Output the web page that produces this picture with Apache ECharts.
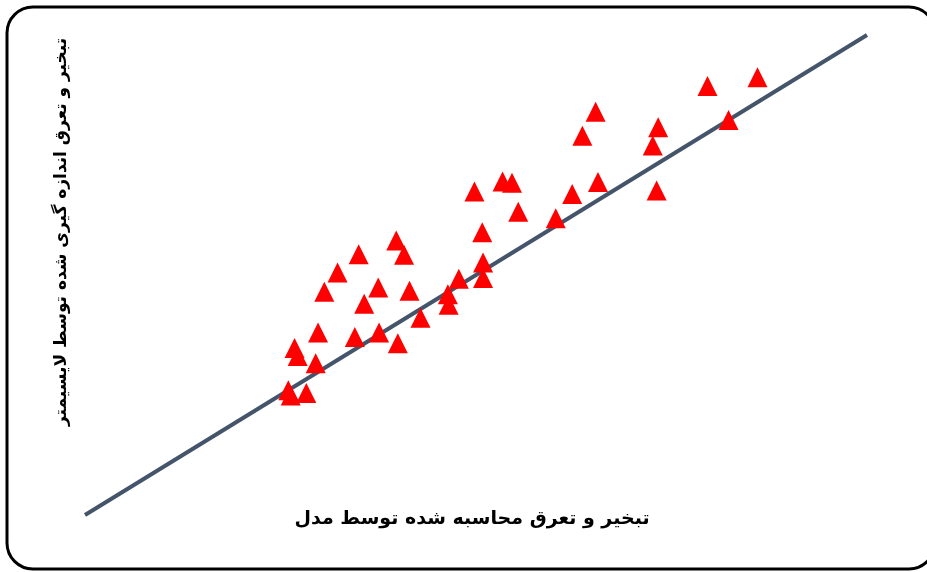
<!DOCTYPE html>
<html>
<head>
<meta charset="utf-8">
<script src="https://cdn.jsdelivr.net/npm/echarts@6/dist/echarts.min.js"></script>
<style>
  html, body { margin: 0; padding: 0; background: #fff; }
  #main { width: 927px; height: 572px; }
</style>
</head>
<body>
<div id="main"></div>
<script>
// مقادیر تبخیر و تعرق (محاسبه شده توسط مدل ، اندازه گیری شده توسط لایسیمتر)
var model_et = [8.60, 7.96, 8.23, 6.53, 6.36, 7.33, 7.26, 6.56, 6.23, 7.31,
                6.02, 4.98, 5.34, 5.46, 5.54, 5.08, 5.09, 5.09, 4.78, 4.64,
                4.65, 4.15, 4.29, 3.98, 4.08, 3.50, 3.23, 3.06, 3.75, 3.57,
                2.98, 3.45, 3.76, 4.00, 2.68, 2.72, 2.95, 2.60, 2.63, 2.83];
var lysimeter_et = [9.12, 8.94, 8.23, 8.40, 7.90, 8.08, 7.70, 6.94, 6.69, 6.76,
                    6.18, 6.74, 6.95, 6.92, 6.32, 5.89, 5.26, 4.94, 4.92, 4.60,
                    4.38, 4.67, 4.11, 5.72, 5.42, 5.43, 5.05, 4.65, 4.74, 4.40,
                    3.80, 3.71, 3.80, 3.58, 3.48, 3.31, 3.16, 2.60, 2.49, 2.54];
// خط 1:1
var line_x = [0, 10];
var line_y = [0, 10];

var x_title = 'تبخیر و تعرق محاسبه شده توسط مدل';
var y_title = 'تبخیر و تعرق اندازه گیری شده توسط لایسیمتر';

var myChart = echarts.init(document.getElementById('main'));

var points = [];
for (var i = 0; i < model_et.length; i++) {
    points.push([model_et[i], lysimeter_et[i]]);
}
var line_data = [];
for (var k = 0; k < line_x.length; k++) {
    line_data.push([line_x[k], line_y[k]]);
}

var option = {
    animation: false,
    backgroundColor: '#fff',
    grid: { left: 85, right: 60, top: 35, bottom: 57 },
    xAxis: { type: 'value', min: 0, max: 10, show: false },
    yAxis: { type: 'value', min: 0, max: 10, show: false },
    graphic: [
        {
            type: 'rect',
            shape: { x: 7, y: 7, width: 928, height: 562, r: 26 },
            style: { fill: 'none', stroke: '#000', lineWidth: 3 },
            z: 0
        },
        {
            type: 'text',
            x: 472, y: 519,
            style: {
                text: x_title,
                font: 'bold 19px "DejaVu Sans"',
                fill: '#000',
                align: 'center',
                verticalAlign: 'middle'
            }
        },
        {
            type: 'text',
            x: 62, y: 232,
            rotation: Math.PI / 2,
            style: {
                text: y_title,
                font: 'bold 17px "DejaVu Sans"',
                fill: '#000',
                align: 'center',
                verticalAlign: 'middle'
            }
        }
    ],
    series: [
        {
            type: 'line',
            data: line_data,
            showSymbol: false,
            symbol: 'none',
            lineStyle: { color: '#44546a', width: 4 },
            z: 1
        },
        {
            type: 'scatter',
            data: points,
            symbol: 'triangle',
            symbolSize: [20, 20],
            itemStyle: { color: '#ff0000', opacity: 1 },
            z: 2
        }
    ]
};

myChart.setOption(option);
</script>
</body>
</html>
